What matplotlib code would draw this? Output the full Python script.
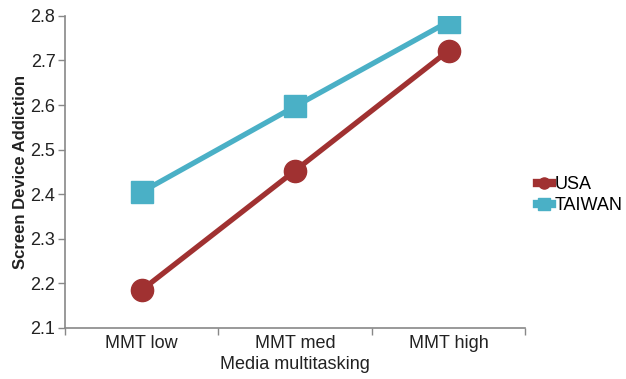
import matplotlib.pyplot as plt
from matplotlib.lines import Line2D

plt.rcParams['font.family'] = ['Liberation Sans', 'DejaVu Sans']

categories = ["MMT low", "MMT med", "MMT high"]
usa = [2.185, 2.453, 2.722]
taiwan = [2.405, 2.597, 2.787]
yticks = [2.1, 2.2, 2.3, 2.4, 2.5, 2.6, 2.7, 2.8]

usa_color = "#a03131"
tw_color = "#4ab0c6"

fig = plt.figure(figsize=(6.26, 3.79), dpi=100)
ax = fig.add_axes([0.104, 0.135, 0.735, 0.823])

x = range(len(categories))
ax.plot(x, taiwan, color=tw_color, lw=3.8, marker="s", ms=16, zorder=3)
ax.plot(x, usa, color=usa_color, lw=3.8, marker="o", ms=16, zorder=3)

ax.set_xlim(-0.5, 2.5)
ax.set_ylim(2.1, 2.8)
ax.set_yticks(yticks)
ax.set_yticklabels([f"{v:.1f}" for v in yticks], fontsize=13, color="#222222")
# category boundaries get the tick marks, labels sit between them
ax.set_xticks([-0.5, 0.5, 1.5, 2.5])
ax.set_xticklabels([])
ax.set_xticks(list(x), minor=True)
ax.set_xticklabels(categories, minor=True, fontsize=13, color="#222222")
ax.tick_params(axis="x", which="minor", length=0, pad=5)
ax.tick_params(axis="both", which="major", color="#888888", length=5, width=1)
ax.tick_params(axis="y", pad=2)

for side in ["top", "right"]:
    ax.spines[side].set_visible(False)
for side in ["left", "bottom"]:
    ax.spines[side].set_color("#888888")
    ax.spines[side].set_linewidth(1.2)

ax.set_xlabel("Media multitasking", fontsize=13, color="#222222", labelpad=3)
ax.set_ylabel("Screen Device Addiction", fontsize=12, fontweight="bold", color="#222222",
              labelpad=2)

handles = [
    Line2D([0], [0], color=usa_color, lw=6, marker="o", ms=8),
    Line2D([0], [0], color=tw_color, lw=6, marker="s", ms=8),
]
fig.legend(handles, ["USA", "TAIWAN"], loc="center left", bbox_to_anchor=(0.858, 0.485),
           frameon=False, fontsize=13, handlelength=0.8, handletextpad=0.15,
           labelspacing=0.2, borderpad=0, borderaxespad=0)

fig.savefig("out.png", dpi=100)
